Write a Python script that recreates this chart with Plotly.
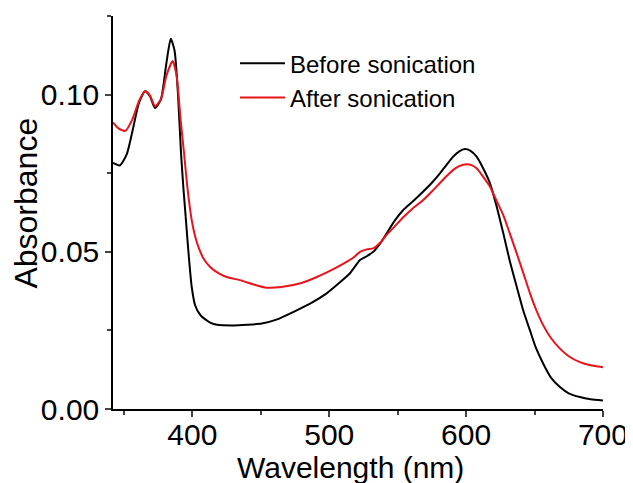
import plotly.graph_objects as go

# Before sonication
wl_before = [342, 347, 352, 357, 361, 365.4, 369, 372.7, 377, 381, 384.2, 387, 389.5, 391.7, 393.5, 395.3,
             397.5, 399.5, 402, 405.6, 408, 410.5, 413, 418, 430, 440, 450.7, 462, 474, 486, 498.1, 507,
             515, 522.5, 527.4, 532.2, 537, 542, 548, 554.1, 561, 568.7, 575, 580.9, 586, 590.6, 595,
             599.2, 603, 607.7, 612, 617.4, 622, 627.2, 632, 637, 642, 646.7, 651, 656.4, 662, 668.6,
             675, 683.2, 691, 700]
abs_before = [0.0783, 0.0775, 0.0810, 0.0900, 0.0975, 0.1011, 0.0995, 0.0958, 0.0985, 0.1100, 0.1178, 0.1140,
              0.1000, 0.0814, 0.0700, 0.0601, 0.0480, 0.0389, 0.0330, 0.0300, 0.0290, 0.0282, 0.0275, 0.0268,
              0.0266, 0.0268, 0.0272, 0.0285, 0.0309, 0.0335, 0.0368, 0.0400, 0.0431, 0.0474, 0.0486, 0.0500,
              0.0525, 0.0559, 0.0600, 0.0633, 0.0660, 0.0692, 0.0720, 0.0750, 0.0778, 0.0803, 0.0820, 0.0827,
              0.0822, 0.0803, 0.0770, 0.0719, 0.0650, 0.0559, 0.0470, 0.0389, 0.0310, 0.0250, 0.0195, 0.0144,
              0.0100, 0.0070, 0.0050, 0.0038, 0.0031, 0.0027]

# After sonication
wl_after = [342, 346, 351, 356, 361, 365.4, 369, 372.7, 377, 381, 385.6, 388.5, 391.4, 394, 396.3, 399.5,
            402, 404.4, 408, 413, 419, 425, 434.8, 445, 454.3, 465, 479, 491, 503, 512.7, 518, 522.5,
            527.4, 532.2, 537, 542, 548, 554.1, 561, 568.7, 575, 580.9, 586, 590.6, 595, 600.4, 604,
            607.7, 612, 617.4, 622, 627.2, 632, 637, 642, 646.7, 651, 656.4, 662, 668.6, 675, 683.2, 691, 700]
abs_after = [0.0912, 0.0893, 0.0885, 0.0920, 0.0980, 0.1011, 0.0998, 0.0963, 0.0985, 0.1060, 0.1107, 0.1060,
             0.0920, 0.0810, 0.0708, 0.0601, 0.0550, 0.0516, 0.0480, 0.0452, 0.0432, 0.0420, 0.0410, 0.0396,
             0.0386, 0.0388, 0.0400, 0.0420, 0.0445, 0.0468, 0.0483, 0.0500, 0.0508, 0.0511, 0.0528, 0.0554,
             0.0582, 0.0610, 0.0638, 0.0665, 0.0692, 0.0719, 0.0742, 0.0761, 0.0773, 0.0779, 0.0776, 0.0766,
             0.0742, 0.0708, 0.0665, 0.0617, 0.0558, 0.0495, 0.0430, 0.0368, 0.0318, 0.0266, 0.0226, 0.0192,
             0.0168, 0.0149, 0.0139, 0.0133]

x_ticks = [400, 500, 600, 700]
y_ticks = [0.00, 0.05, 0.10]
y_ticklabels = ["0.00", "0.05", "0.10"]
x_title = "Wavelength (nm)"
y_title = "Absorbance"

font_family = "Liberation Sans, Arial, sans-serif"

fig = go.Figure()
fig.add_trace(go.Scatter(x=wl_before, y=abs_before, mode="lines", name="Before sonication",
                         line=dict(color="#000000", width=2, shape="spline", smoothing=0.6)))
fig.add_trace(go.Scatter(x=wl_after, y=abs_after, mode="lines", name="After sonication",
                         line=dict(color="#e8141c", width=2, shape="spline", smoothing=0.6)))

fig.update_layout(
    width=633, height=483,
    margin=dict(l=105, r=38, t=8, b=82, autoexpand=False),
    paper_bgcolor="white", plot_bgcolor="white",
    font=dict(family=font_family, color="black", size=30),
    showlegend=True,
    legend=dict(x=0.249, y=0.936, xanchor="left", yanchor="top",
                font=dict(size=24, family=font_family), bgcolor="rgba(0,0,0,0)",
                itemwidth=45, tracegroupgap=0),
    xaxis=dict(range=[342, 700.05], tickvals=x_ticks, ticks="outside", ticklen=6, tickwidth=1.5,
               showline=True, linecolor="black", linewidth=1.5, showgrid=False, zeroline=False,
               tickfont=dict(size=30), ticklabelstandoff=-8,
               minor=dict(dtick=50, tick0=350, ticks="outside", ticklen=4, tickwidth=1.5, showgrid=False)),
    yaxis=dict(range=[0, 0.12505], tickvals=y_ticks, ticktext=y_ticklabels, ticks="outside", ticklen=6,
               tickwidth=1.5, showline=True, linecolor="black", linewidth=1.5, showgrid=False, zeroline=False,
               tickfont=dict(size=30),
               minor=dict(dtick=0.025, tick0=0, ticks="outside", ticklen=4, tickwidth=1.5, showgrid=False)),
    annotations=[
        dict(text=x_title, xref="paper", yref="paper", x=0.4837, y=-0.148, xanchor="center",
             yanchor="middle", showarrow=False, font=dict(size=30, family=font_family)),
        dict(text=y_title, xref="paper", yref="paper", x=-0.1765, y=0.524, xanchor="center",
             yanchor="middle", textangle=-90, showarrow=False, font=dict(size=32, family=font_family)),
    ],
)

fig.write_html("out.html")
